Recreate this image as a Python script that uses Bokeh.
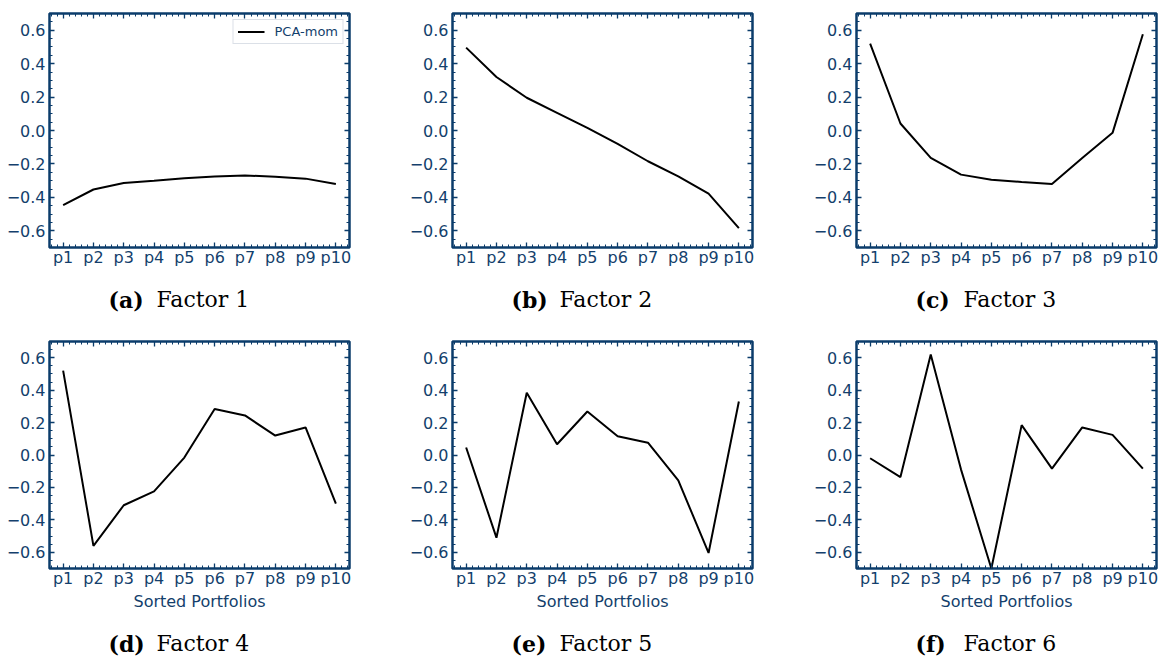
from bokeh.plotting import figure
from bokeh.models import (Range1d, LinearAxis, SingleIntervalTicker,
                          CustomJSTickFormatter, Label)
from bokeh.layouts import column, row
from bokeh.embed import file_html
from bokeh.resources import INLINE

# ---------------- data ----------------
portfolios = ["p1", "p2", "p3", "p4", "p5", "p6", "p7", "p8", "p9", "p10"]
positions = [1, 2, 3, 4, 5, 6, 7, 8, 9, 10]

factor1 = [-0.447, -0.353, -0.314, -0.300, -0.285, -0.275, -0.269, -0.276, -0.288, -0.320]
factor2 = [0.496, 0.320, 0.196, 0.106, 0.016, -0.080, -0.184, -0.274, -0.378, -0.584]
factor3 = [0.520, 0.042, -0.164, -0.264, -0.294, -0.308, -0.320, -0.164, -0.014, 0.576]
factor4 = [0.520, -0.560, -0.310, -0.224, -0.016, 0.284, 0.244, 0.120, 0.170, -0.300]
factor5 = [0.046, -0.510, 0.384, 0.066, 0.268, 0.116, 0.076, -0.156, -0.604, 0.330]
factor6 = [-0.020, -0.136, 0.620, -0.090, -0.700, 0.184, -0.084, 0.170, 0.124, -0.084]

caption_tags = ["(a)", "(b)", "(c)", "(d)", "(e)", "(f)"]
caption_texts = ["Factor 1", "Factor 2", "Factor 3", "Factor 4", "Factor 5", "Factor 6"]
legend_label = "PCA-mom"
x_label = "Sorted Portfolios"

NAVY = "#0b3c6b"
TEXT = "#143f6c"

# layout geometry (pixels)
col_widths = [403, 403, 353]
col_left = [49, 49, 50]
FRAME_W = 300
FRAME_H_TOP = 234
FRAME_H_BOT = 232


def make_panel(vals, width, left, height, frame_h, bottom, show_xlabel, legend=None):
    b_top = 13
    p = figure(width=width, height=height, output_backend="svg", toolbar_location=None,
               x_range=Range1d(0.55, 10.45), y_range=Range1d(-0.7, 0.7),
               min_border_left=left, min_border_right=width - left - FRAME_W,
               min_border_top=b_top, min_border_bottom=bottom,
               background_fill_color="white", border_fill_color="white")
    p.grid.visible = False
    p.outline_line_color = NAVY
    p.outline_line_width = 2.5
    p.outline_line_alpha = 1.0

    xa = p.xaxis[0]
    xa.ticker = SingleIntervalTicker(interval=1, num_minor_ticks=5)
    xa.major_label_overrides = dict(zip(positions, portfolios))
    ya = p.yaxis[0]
    ya.ticker = SingleIntervalTicker(interval=0.2, num_minor_ticks=4)
    ya.formatter = CustomJSTickFormatter(
        code="const s = Math.abs(tick).toFixed(1); return (tick < -1e-9 ? '\u2212' : '') + s;")

    blank = CustomJSTickFormatter(code="return '';")
    top = LinearAxis(ticker=SingleIntervalTicker(interval=1, num_minor_ticks=5), formatter=blank)
    right = LinearAxis(ticker=SingleIntervalTicker(interval=0.2, num_minor_ticks=4), formatter=blank)
    p.add_layout(top, "above")
    p.add_layout(right, "right")

    for ax in (xa, ya, top, right):
        ax.axis_line_color = None
        ax.major_tick_line_color = NAVY
        ax.minor_tick_line_color = NAVY
        ax.major_tick_line_width = 1.3
        ax.minor_tick_line_width = 1.0
        ax.major_tick_in = 5
        ax.major_tick_out = 0
        ax.minor_tick_in = 3
        ax.minor_tick_out = 0
        ax.major_label_text_color = TEXT
        ax.major_label_text_font = "DejaVu Sans"
        ax.major_label_text_font_size = "16px"
    for ax in (top, right):
        ax.major_label_standoff = 0
    xa.major_label_standoff = 0
    ya.major_label_standoff = 4

    if show_xlabel:
        xa.axis_label = x_label
        xa.axis_label_text_font = "DejaVu Sans"
        xa.axis_label_text_font_size = "16px"
        xa.axis_label_text_font_style = "normal"
        xa.axis_label_text_color = TEXT
        xa.axis_label_standoff = 1

    if legend:
        p.line(positions, vals, line_color="black", line_width=2, legend_label=legend)
        lg = p.legend[0]
        lg.location = "top_right"
        lg.margin = 6
        lg.padding = 4
        lg.spacing = 0
        lg.label_text_font = "DejaVu Sans"
        lg.label_text_font_size = "13px"
        lg.label_text_color = TEXT
        lg.label_height = 15
        lg.glyph_height = 15
        lg.glyph_width = 27
        lg.label_standoff = 10
        lg.border_line_color = "#b8c2d0"
        lg.border_line_width = 1
        lg.background_fill_alpha = 1.0
    else:
        p.line(positions, vals, line_color="black", line_width=2)
    return p


def make_caption(tag, cap, width, left, height, baseline):
    c = figure(width=width, height=height, output_backend="svg", toolbar_location=None,
               x_range=Range1d(0, width), y_range=Range1d(0, height),
               min_border=0, min_border_left=0, min_border_right=0,
               min_border_top=0, min_border_bottom=0,
               background_fill_color="white", border_fill_color="white")
    c.axis.visible = False
    c.grid.visible = False
    c.outline_line_color = None
    y = height - baseline
    c.add_layout(Label(x=left + 59, y=y, text=tag,
                       text_font="DejaVu Serif", text_font_style="bold",
                       text_font_size="22px", text_color="black",
                       text_baseline="alphabetic", text_align="left"))
    c.add_layout(Label(x=left + 107, y=y, text=cap,
                       text_font="DejaVu Serif", text_font_style="normal",
                       text_font_size="22px", text_color="black",
                       text_baseline="alphabetic", text_align="left"))
    return c


series = [factor1, factor2, factor3, factor4, factor5, factor6]

rows = []
for r in range(2):
    panels, caps = [], []
    for c in range(3):
        i = r * 3 + c
        if r == 0:
            p = make_panel(series[i], col_widths[c], col_left[c], 270, FRAME_H_TOP, 23, False,
                           legend_label if i == 0 else None)
            cp = make_caption(caption_tags[i], caption_texts[i], col_widths[c], col_left[c], 58, 29)
        else:
            p = make_panel(series[i], col_widths[c], col_left[c], 285, FRAME_H_BOT, 40, True)
            cp = make_caption(caption_tags[i], caption_texts[i], col_widths[c], col_left[c], 48, 30)
        panels.append(p)
        caps.append(cp)
    rows.append(row(*panels))
    rows.append(row(*caps))

layout = column(*rows)

with open("out.html", "w", encoding="utf-8") as f:
    f.write(file_html(layout, INLINE))
